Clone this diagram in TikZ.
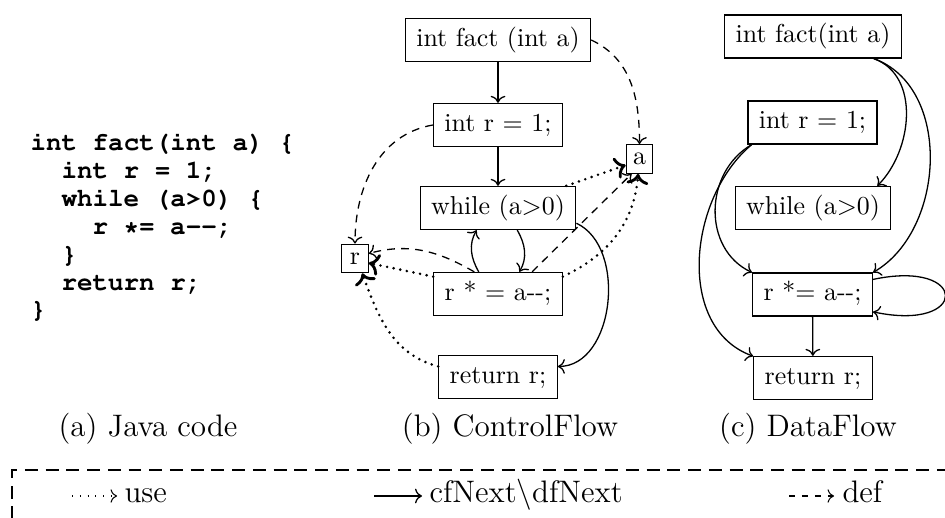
\documentclass[tikz,border=0pt]{standalone}
\usepackage[T1]{fontenc}
\usepackage{fontspec}
\newcommand\mycodefont{\fontencoding{T1}\fontfamily{pcr}\fontseries{b}\fontshape{n}\selectfont}
\usetikzlibrary{arrows.meta}
\begin{document}
\begin{tikzpicture}[x=0.386pt,y=0.386pt,
  box/.style={draw,line width=0.5pt,inner xsep=4.2pt,inner ysep=3.3pt,text height=7.5pt,text depth=2.5pt,font=\fontsize{10}{12}\selectfont},
  var/.style={draw,line width=0.5pt,inner sep=1pt,minimum width=10.2pt,minimum height=11pt,font=\fontsize{10}{12}\selectfont},
  code/.style={anchor=base west,inner sep=0pt,font=\fontsize{10}{12}\mycodefont},
  caption/.style={anchor=base,inner sep=0pt,font=\fontsize{12}{14}\selectfont},
  legtext/.style={anchor=base west,inner sep=0pt,font=\fontsize{12}{14}\selectfont},
  cfl/.style={-{To},line width=0.5pt},
  usel/.style={-{To},line width=1.1pt,line cap=round,dash pattern=on 0pt off 2.6pt},
  defl/.style={-{To},line width=0.5pt,dash pattern=on 3pt off 2.4pt},
  legendframe/.style={line width=0.6pt,dash pattern=on 5pt off 3pt}
]
\useasboundingbox (0,0) rectangle (945,-518);

% (a) Java code
\node[code] (c1) at (30,-151) {int fact(int a) \{};
\node[code] (c2) at (61,-179) {int r = 1;};
\node[code] (c3) at (61,-207) {while (a>0) \{};
\node[code] (c4) at (92,-235) {r *= a-{}-;};
\node[code] (c5) at (61,-263) {\}};
\node[code] (c6) at (61,-291) {return r;};
\node[code] (c7) at (30,-318) {\}};
\node[caption] (capa) at (148,-437) {(a) Java code};

% (b) ControlFlow
\node[box] (cfFact) at (498,-40) {int fact (int a)};
\node[box] (cfR) at (498,-125) {int r $=$ 1;};
\node[box] (cfWhile) at (498,-208) {while (a$>$0)};
\node[box] (cfMul) at (498,-294) {r * $=$ a-{}-;};
\node[box] (cfRet) at (498,-377) {return r;};
\node[var] (cfa) at (639.5,-159) {a};
\node[var] (cfr) at (355,-258.5) {r};
\node[caption] (capb) at (510,-437) {(b) ControlFlow};

\draw[cfl] (cfFact) -- (cfR);
\draw[cfl] (cfR) -- (cfWhile);
\draw[cfl] (cfWhile.-49) to[out=-60,in=60] (cfMul.46);
\draw[cfl] (cfMul.131) to[out=120,in=-120] (cfWhile.-134);
\draw[cfl] (cfWhile.-11) to[out=-25,in=0] (cfRet.10);

\draw[defl] (cfFact.east) to[out=-25,in=90] (cfa.north);
\draw[defl] (cfR.west) to[out=190,in=90] (cfr.north);
\draw[defl] (cfMul.33) -- (cfa.242);
\draw[defl] (cfMul.137) to[out=150,in=15] (cfr.20);

\draw[usel] (cfWhile.18) -- (cfa.204);
\draw[usel] (cfMul.15) to[out=25,in=-95] (cfa.-95);
\draw[usel] (cfMul.165) -- (cfr.-18);
\draw[usel] (cfRet.170) to[out=165,in=-70] (cfr.-64);

% (c) DataFlow
\node[box] (dfFact) at (813,-36.5) {int fact(int a)};
\node[box] (dfR) at (812.5,-122.5) {int r $=$ 1;};
\node[box] (dfWhile) at (813,-208) {while (a$>$0)};
\node[box] (dfMul) at (812.5,-294.5) {r *$=$ a-{}-;};
\node[box] (dfRet) at (813,-378) {return r;};
\node[caption] (capc) at (808,-437) {(c) DataFlow};

\draw[cfl] (dfFact.-20) to[out=-20,in=45] (dfWhile.19);
\draw[cfl] (dfFact.-20) to[out=-20,in=30] (dfMul.20);
\draw[cfl] (dfR.-160) to[out=-150,in=155,looseness=1.1] (dfMul.160);
\draw[cfl] (dfR.-160) to[out=-140,in=160] (dfRet.160);
\draw[cfl] (dfMul.14) to[out=12,in=-12,looseness=7.8] (dfMul.-16);
\draw[cfl] (dfMul) -- (dfRet);

% legend
\coordinate (lf1) at (12,-540);
\coordinate (lf2) at (12,-470);
\coordinate (lf3) at (950,-470);
\draw[legendframe] (lf1) -- (lf2) -- (lf3);
\coordinate (u1) at (72,-496);
\coordinate (u2) at (117,-496);
\draw[-{To},line width=0.4pt,dash pattern=on 0.4pt off 2.6pt] (u1) -- (u2);
\node[legtext] (luse) at (124,-503) {use};
\coordinate (s1) at (374,-496);
\coordinate (s2) at (422,-496);
\draw[-{To},line width=0.5pt] (s1) -- (s2);
\node[legtext] (lcf) at (429,-503) {cfNext$\backslash$dfNext};
\coordinate (d1) at (789,-496);
\coordinate (d2) at (834,-496);
\draw[-{To},line width=0.4pt,dash pattern=on 2.5pt off 2.5pt] (d1) -- (d2);
\node[legtext] (ldef) at (842,-503) {def};
\end{tikzpicture}
\end{document}
